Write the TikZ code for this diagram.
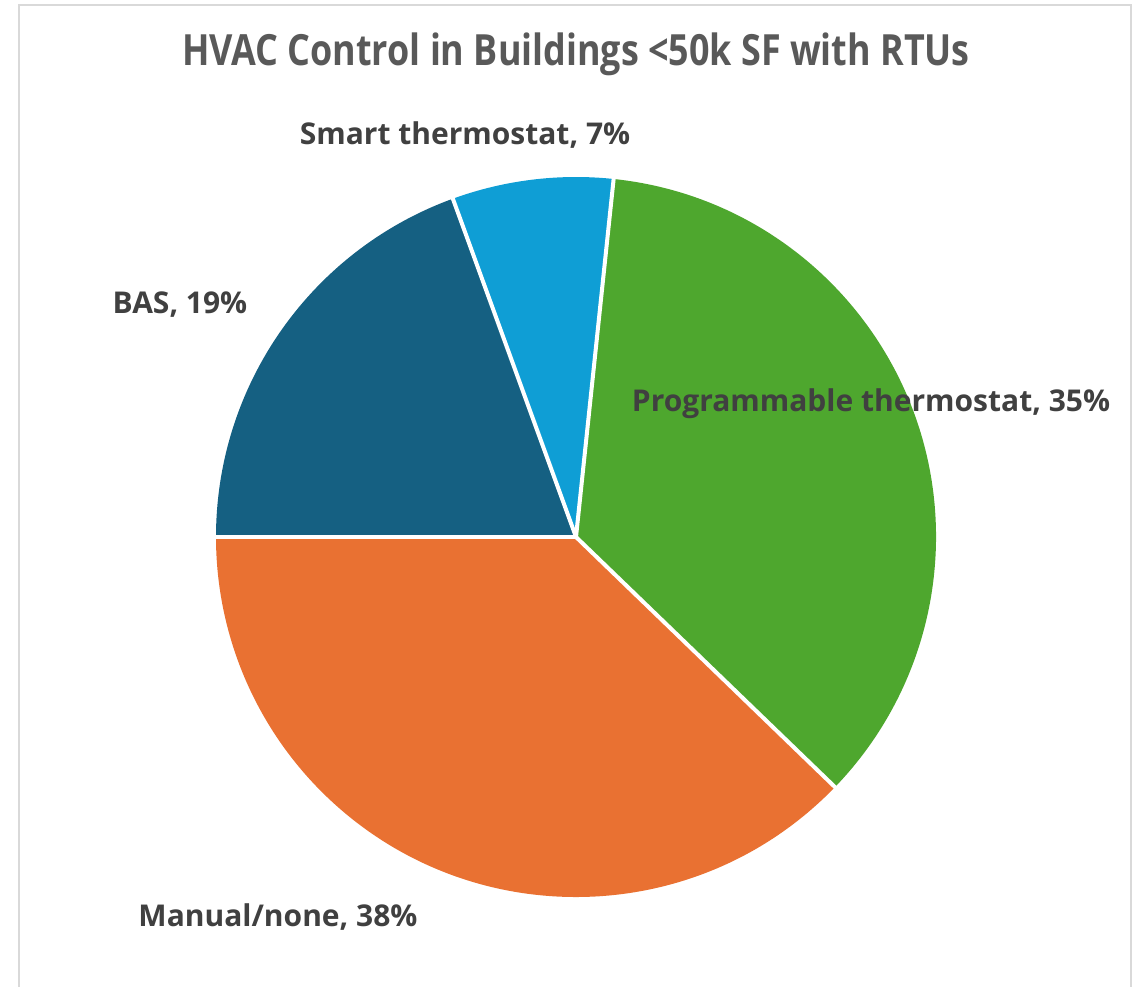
\documentclass[tikz,border=0pt]{standalone}
\usepackage{fontspec}
\setmainfont{Open Sans}
\definecolor{cgreen}{HTML}{4EA72E}
\definecolor{corange}{HTML}{E97132}
\definecolor{cdblue}{HTML}{156082}
\definecolor{clblue}{HTML}{0F9ED5}
\definecolor{ctitle}{HTML}{595959}
\definecolor{clabel}{HTML}{404040}
\definecolor{cframe}{HTML}{D9D9D9}
\begin{document}
\begin{tikzpicture}[x=1pt,y=-1pt,
  lbl/.style={text=clabel,font=\fontsize{30}{35}\selectfont\bfseries,inner sep=0pt},
  ttl/.style={text=ctitle,font=\fontsize{43}{50}\selectfont\bfseries,inner sep=0pt},
  sep/.style={white,line width=4pt,line cap=round}]
\useasboundingbox (0,0) rectangle (1132,986);
\draw[cframe,line width=2.5pt] (19,1000) -- (19,5) -- (1131,5) -- (1131,1000);
\coordinate (c) at (576,537);
\def\R{360}
\fill[cgreen]  (c) -- ++(-84:\R) arc[start angle=-84,end angle=44,radius=\R] -- cycle;
\fill[corange] (c) -- ++(44:\R) arc[start angle=44,end angle=180,radius=\R] -- cycle;
\fill[cdblue]  (c) -- ++(180:\R) arc[start angle=180,end angle=250,radius=\R] -- cycle;
\fill[clblue]  (c) -- ++(250:\R) arc[start angle=250,end angle=276,radius=\R] -- cycle;
\draw[sep] (c) -- ++(-84:\R+2);
\draw[sep] (c) -- ++(44:\R+2);
\draw[sep] (c) -- ++(180:\R+2);
\draw[sep] (c) -- ++(250:\R+2);
\node[ttl,anchor=base] (title) at (576,65) {\scalebox{0.835}[1]{HVAC Control in Buildings <50k SF with RTUs}};
\node[lbl,anchor=base] (smart) at (465,144) {Smart thermostat, 7\%};
\node[lbl,anchor=base] (bas) at (180,313) {BAS, 19\%};
\node[lbl,anchor=base] (prog) at (871,411) {Programmable thermostat, 35\%};
\node[lbl,anchor=base] (manual) at (278,926) {Manual/none, 38\%};
\end{tikzpicture}
\end{document}
